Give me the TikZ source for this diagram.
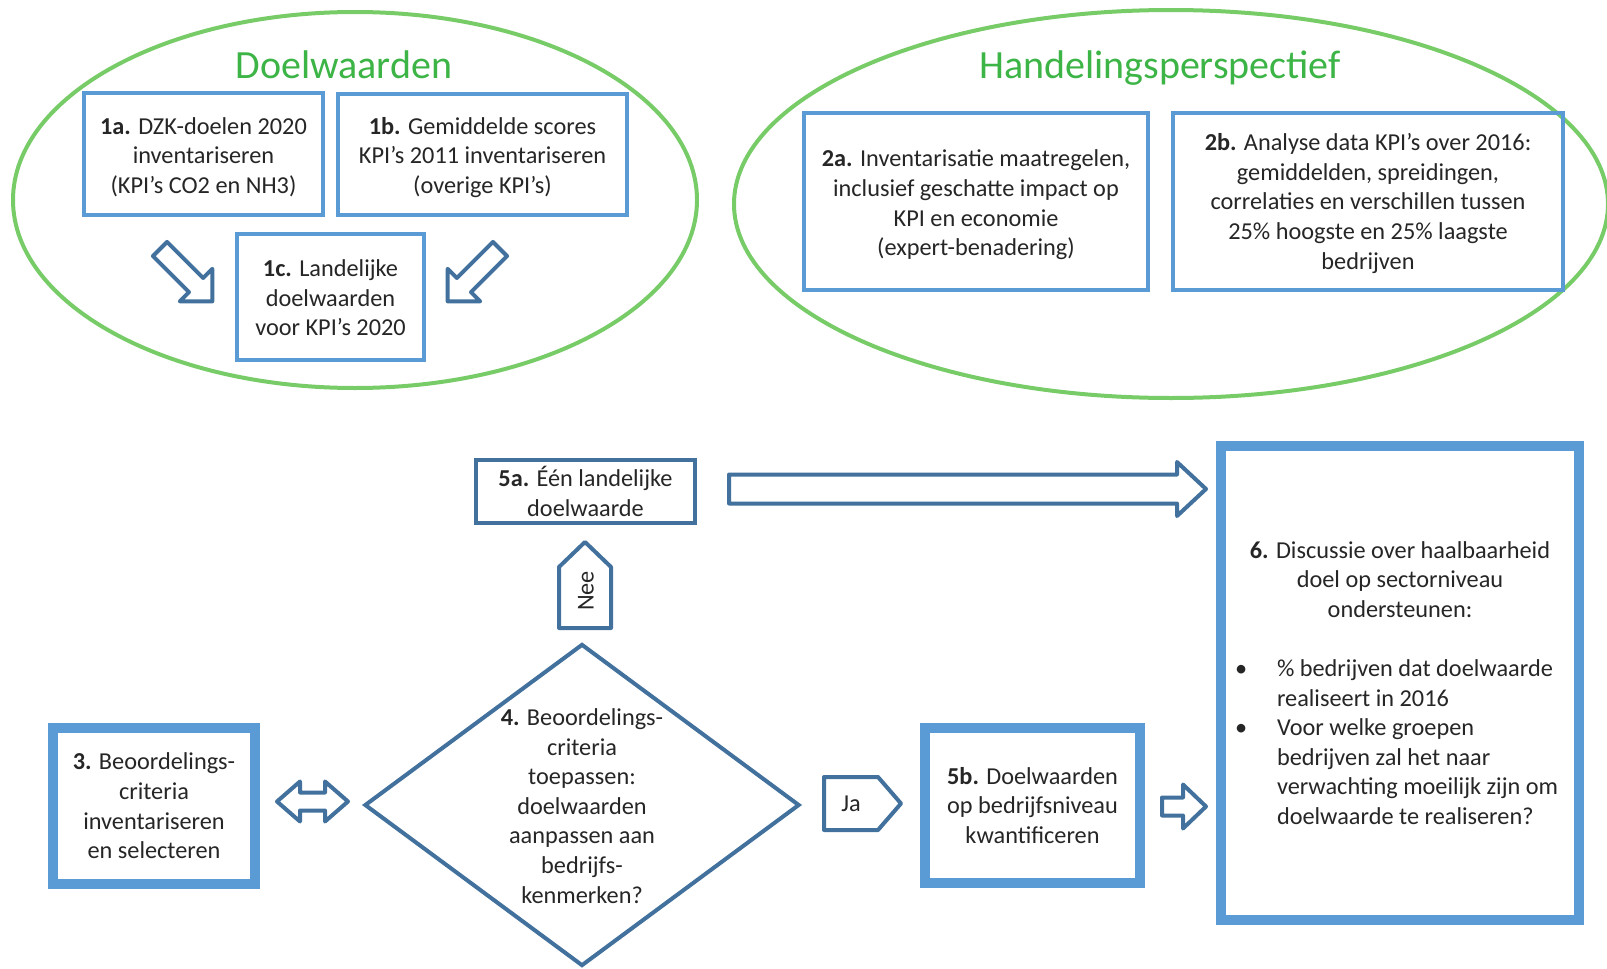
\documentclass[tikz,border=0pt]{standalone}
\usepackage{fontspec}
\setmainfont{Carlito}
\usetikzlibrary{shapes.geometric}
\definecolor{lblue}{RGB}{91,155,213}
\definecolor{dblue}{RGB}{65,113,156}
\definecolor{lgreen}{RGB}{120,204,104}
\definecolor{tgreen}{RGB}{60,180,70}
\definecolor{txt}{RGB}{38,38,38}
\newcommand\bodyfont{\fontsize{24.3pt}{29.6pt}\selectfont}
\newcommand\titlefont{\fontsize{40pt}{48pt}\selectfont}
% block arrow: length, shaft half width, head half width, head length
\newcommand\blkarrow[4]{%
  \draw[arr] (0,-#2) -- ({#1-#4},-#2) -- ({#1-#4},-#3) -- (#1,0) -- ({#1-#4},#3) -- ({#1-#4},#2) -- (0,#2) -- cycle;}
\newcommand\dblarrow[4]{%
  \draw[arr] (0,0) -- (#4,-#3) -- (#4,-#2) -- ({#1-#4},-#2) -- ({#1-#4},-#3) -- (#1,0) -- ({#1-#4},#3) -- ({#1-#4},#2) -- (#4,#2) -- (#4,#3) -- cycle;}
\newcommand\bline[2]{\makebox[330pt][l]{\makebox[42pt][l]{#1}#2}}
\tikzset{
  thinbox/.style={draw=lblue, line width=4pt, inner sep=0pt, align=center, font=\bodyfont, text=txt},
  thickbox/.style={draw=lblue, line width=10pt, inner sep=0pt, align=center, font=\bodyfont, text=txt},
  darkbox/.style={draw=dblue, line width=4pt, inner sep=0pt, align=center, font=\bodyfont, text=txt},
  arr/.style={draw=dblue, line width=4pt, line join=round, fill=white},
  greenell/.style={ellipse, draw=lgreen, line width=4pt, inner sep=0pt},
  gtitle/.style={font=\titlefont, text=tgreen, anchor=base, inner sep=0pt},
  plain/.style={font=\bodyfont, text=txt, align=center, inner sep=0pt}
}
\begin{document}
\begin{tikzpicture}[x=1pt,y=-1pt]
\fill[white] (0,0) rectangle (1607,969);
\useasboundingbox (0,0) rectangle (1607,969);

% ellipses and titles
\node[greenell, minimum width=684pt, minimum height=376pt] (ell1) at (355,200) {};
\node[greenell, minimum width=874pt, minimum height=388pt] (ell2) at (1171,204) {};
\node[gtitle] (t1) at (344,78) {Doelwaarden};
\node[gtitle] (t2) at (1160,78) {Handelingsperspectief};

% top boxes
\node[thinbox, minimum width=239pt, minimum height=122pt] (n1a) at (203.5,154) {};
\node[plain] (n1at) at (203.5,157) {\textbf{1a.} DZK-doelen 2020\\inventariseren\\(KPI’s CO2 en NH3)};
\node[thinbox, minimum width=289pt, minimum height=121pt] (n1b) at (482.5,154.5) {};
\node[plain] (n1bt) at (482.5,157.5) {\textbf{1b.} Gemiddelde scores\\KPI’s 2011 inventariseren\\(overige KPI’s)};
\node[thinbox, minimum width=187pt, minimum height=126pt] (n1c) at (330.5,297) {};
\node[plain] (n1ct) at (330.5,298) {\textbf{1c.} Landelijke\\doelwaarden\\voor KPI’s 2020};
\node[thinbox, minimum width=344pt, minimum height=177pt] (n2a) at (976,201.5) {};
\node[plain] (n2at) at (976,205) {\textbf{2a.} Inventarisatie maatregelen,\\inclusief geschatte impact op\\KPI en economie\\(expert-benadering)};
\node[thinbox, minimum width=390pt, minimum height=177pt] (n2b) at (1368,201.5) {};
\node[plain] (n2bt) at (1368,203.5) {\textbf{2b.} Analyse data KPI’s over 2016:\\gemiddelden, spreidingen,\\correlaties en verschillen tussen\\25\% hoogste en 25\% laagste\\bedrijven};

% diagonal arrows into 1c
\coordinate (a1) at (160,249);
\coordinate (a2) at (500,249);
\begin{scope}[shift={(a1)}, rotate=-45]\blkarrow{74}{10}{23}{23}\end{scope}
\begin{scope}[shift={(a2)}, rotate=-135]\blkarrow{74}{10}{23}{23}\end{scope}

% bottom part
\node[darkbox, minimum width=219pt, minimum height=63pt] (n5a) at (585.5,491.5) {\textbf{5a.} Één landelijke\\doelwaarde};
\node[thickbox, minimum width=358pt, minimum height=474pt] (n6) at (1400,683) {\textbf{6.} Discussie over haalbaarheid\\doel op sectorniveau\\ondersteunen:\\[29.6pt]
\bline{•}{\% bedrijven dat doelwaarde}\\
\bline{}{realiseert in 2016}\\
\bline{•}{Voor welke groepen}\\
\bline{}{bedrijven zal het naar}\\
\bline{}{verwachting moeilijk zijn om}\\
\bline{}{doelwaarde te realiseren?}};
\node[thickbox, minimum width=202pt, minimum height=156pt] (n3) at (154,806) {\textbf{3.} Beoordelings-\\criteria\\inventariseren\\en selecteren};
\node[thickbox, minimum width=215pt, minimum height=155pt] (n5b) at (1032.5,805.5) {\textbf{5b.} Doelwaarden\\op bedrijfsniveau\\kwantificeren};
\node[diamond, draw=dblue, line width=4pt, inner sep=0pt, aspect=1.351, minimum width=435pt, minimum height=322pt] (n4) at (582,805) {};
\node[plain] (n4t) at (582,806) {\textbf{4.} Beoordelings-\\criteria\\toepassen:\\doelwaarden\\aanpassen aan\\bedrijfs-\\kenmerken?};

% 5a -> 6 big arrow
\coordinate (a3) at (729,489);
\begin{scope}[shift={(a3)}]\blkarrow{477}{14.5}{27}{29}\end{scope}
% 5b -> 6
\coordinate (a4) at (1162,806.5);
\begin{scope}[shift={(a4)}]\blkarrow{44}{9}{22}{23}\end{scope}
% 3 <-> 4
\coordinate (a5) at (277,801.5);
\begin{scope}[shift={(a5)}]\dblarrow{71}{9}{20}{23}\end{scope}

% Ja arrow
\draw[arr] (824,777) -- (878,777) -- (901,803.5) -- (878,830) -- (824,830) -- cycle;
\node[plain] (ja) at (851,804) {Ja};
% Nee arrow
\draw[arr] (559,628) -- (559,567) -- (585,542) -- (611,567) -- (611,628) -- cycle;
\node[plain, rotate=90] (nee) at (586,591) {Nee};
\end{tikzpicture}
\end{document}
